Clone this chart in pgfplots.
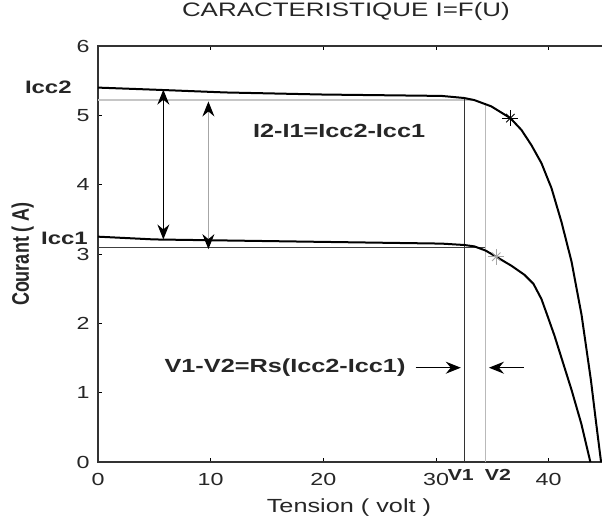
\documentclass[border=0pt]{standalone}
\usepackage{fontspec}
\setmainfont{Liberation Sans}[FakeStretch=1.33]
\newfontfamily\ylfont{Liberation Sans}
\usepackage{graphicx}
\usepackage{pgfplots}
\pgfplotsset{compat=1.18}
\usetikzlibrary{arrows.meta}
\begin{document}
\begin{tikzpicture}[>={Stealth[length=15pt,width=12pt,inset=5pt]}]
\path[use as bounding box] (0,0) rectangle (602pt,523pt);
\begin{axis}[
 at={(98pt,61pt)}, anchor=south west,
 scale only axis, width=507pt, height=416pt,
 xmin=0, xmax=45, ymin=0, ymax=6,
 xtick={0,10,20,30,40}, ytick={0,1,2,3,4,5,6},
 ytick pos=left,
 tick align=inside, major tick length=4pt,
 axis line style={black!80, line width=1.2pt},
 tick style={black, line width=0.8pt},
 /pgf/number format/assume math mode=true,
 ticklabel style={font=\fontsize{17.5}{17.5}\selectfont, text=black!85},
 xticklabel style={anchor=center, yshift=-17pt},
 yticklabel style={anchor=center, xshift=-15pt},
 clip=false,
 title={CARACTERISTIQUE I=F(U)},
 title style={at={(axis description cs:0.489,1.068)}, anchor=center, font=\fontsize{19.5}{19.5}\selectfont, text=black!85},
 xlabel={Tension ( volt )},
 xlabel style={at={(axis description cs:0.495,-0.11)}, anchor=center, font=\fontsize{19}{19}\selectfont, text=black!85},
 ylabel={\scalebox{1}[1.33]{\ylfont\bfseries\fontsize{18}{18}\selectfont Courant ( A)}},
 ylabel style={at={(axis description cs:-0.1485,0.5)}, anchor=center, text=black!85},
]
% reference lines
\addplot[gray!45, line width=1.8pt] coordinates {(0,5.22) (33.2,5.22)};
\addplot[black!75, line width=1pt] coordinates {(0,3.10) (34.4,3.10)};
\addplot[black!80, line width=1.1pt] coordinates {(32.5,0) (32.5,5.25)};
\addplot[gray!55, line width=1.1pt] coordinates {(34.4,0) (34.4,5.16)};
% curve Icc2
\addplot[black, line width=2pt] coordinates {
(0,5.40) (5,5.37) (11.3,5.33) (20,5.30) (30.5,5.28) (32.5,5.25) (33.4,5.22)
(34.9,5.13) (36.6,4.96) (37.58,4.79) (38.47,4.57) (39.36,4.31) (40.25,3.95)
(41.14,3.46) (42.03,2.89) (42.92,2.12) (43.75,1.18) (44.2,0.58) (44.65,0)};
% curve Icc1
\addplot[black, line width=2pt] coordinates {
(0,3.25) (5,3.21) (13.5,3.19) (22,3.17) (30.5,3.15) (32.5,3.13) (33.4,3.11)
(34.4,3.05) (35.35,2.96) (36.7,2.83) (37.85,2.70) (38.65,2.57) (39.36,2.35)
(39.89,2.11) (40.52,1.82) (41.14,1.50) (42.03,1.04) (42.9,0.55) (43.7,0)};
% star markers
\addplot[black, only marks, mark=+, mark size=8pt, line width=0.9pt] coordinates {(36.6,4.96)};
\addplot[black, only marks, mark=x, mark size=6pt, line width=0.9pt] coordinates {(36.6,4.96)};
\addplot[gray!70, only marks, mark=+, mark size=8pt, line width=0.9pt] coordinates {(35.35,2.96)};
\addplot[gray!70, only marks, mark=x, mark size=6pt, line width=0.9pt] coordinates {(35.35,2.96)};
% vertical arrows
\addplot[black, line width=1.1pt, <->] coordinates {(5.8,5.37) (5.8,3.21)};
\addplot[gray!70, line width=1.1pt, {Stealth[length=15pt,width=12pt,inset=5pt,color=black]}-{Stealth[length=15pt,width=12pt,inset=5pt,color=black]}] coordinates {(9.8,5.20) (9.8,3.07)};
% horizontal arrows
\addplot[black, line width=1.1pt, ->] coordinates {(28.2,1.36) (32.2,1.36)};
\addplot[black, line width=1.1pt, ->] coordinates {(37.8,1.36) (34.7,1.36)};
% texts
\node[font=\bfseries\fontsize{19}{19}\selectfont, text=black!85] at (axis cs:21.4,4.77) {I2-I1=Icc2-Icc1};
\node[font=\bfseries\fontsize{19}{19}\selectfont, text=black!85] at (axis cs:16.6,1.36) {V1-V2=Rs(Icc2-Icc1)};
\node[font=\bfseries\fontsize{18}{18}\selectfont, text=black!85] at (axis cs:-4.41,5.41) {Icc2};
\node[font=\bfseries\fontsize{18}{18}\selectfont, text=black!85] at (axis cs:-2.98,3.23) {Icc1};
\node[font=\bfseries\fontsize{16}{16}\selectfont, text=black!85] at (axis cs:32.2,-0.19) {V1};
\node[font=\bfseries\fontsize{16}{16}\selectfont, text=black!85] at (axis cs:35.5,-0.19) {V2};
\end{axis}
\end{tikzpicture}
\end{document}
